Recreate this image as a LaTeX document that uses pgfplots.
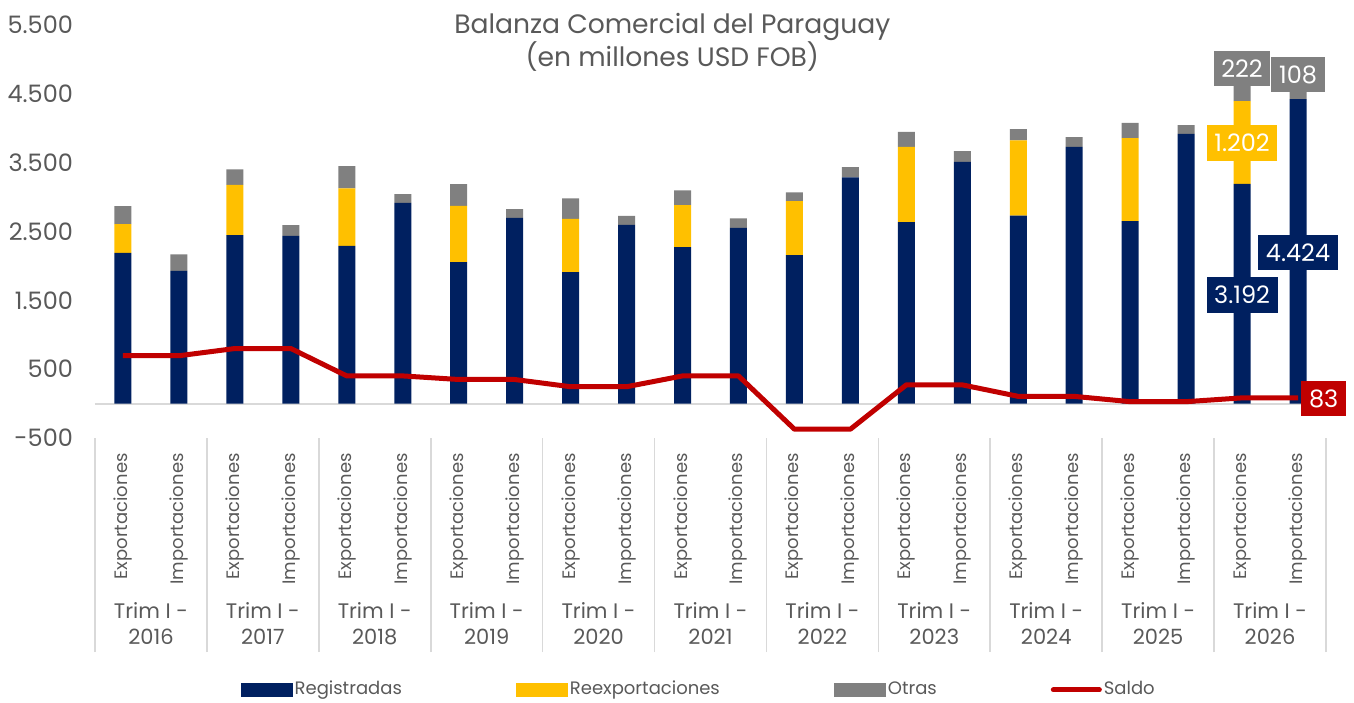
\documentclass[border=0pt]{standalone}
\usepackage{fontspec}
\setmainfont{Poppins}
\usepackage{pgfplots}
\usepackage{pgfplotstable}
\pgfplotsset{compat=1.18}

\definecolor{navy}{RGB}{0,32,96}
\definecolor{amber}{RGB}{255,192,0}
\definecolor{otrasgray}{RGB}{128,128,128}
\definecolor{saldored}{RGB}{192,0,0}
\definecolor{txt}{RGB}{89,89,89}
\definecolor{sepgray}{RGB}{217,217,217}

% x: 0,2,4,... exportaciones; 1,3,5,... importaciones (Trim I 2016-2026)
\pgfplotstableread{
x  reg  reexp otras saldo
0  2190 418   261   695
1  1929 0     238   695
2  2448 731   223   800
3  2438 0     155   800
4  2292 834   325   402
5  2917 0     126   402
6  2055 819   315   350
7  2699 0     127   350
8  1910 775   296   245
9  2597 0     131   245
10 2273 611   213   402
11 2554 0     136   402
12 2157 785   126   -372
13 3286 0     150   -372
14 2637 1094  218   272
15 3513 0     156   272
16 2729 1095  164   105
17 3731 0     141   105
18 2651 1207  222   28
19 3920 0     127   28
20 3192 1202  222   83
21 4424 0     108   83
}\datatable

\pgfplotsset{
  barleg/.style={legend image code/.code={\fill[##1] (0pt,-3.5pt) rectangle (26pt,3.5pt);}},
  lineleg/.style={legend image code/.code={\draw[##1, line cap=round] (1.5pt,0pt) -- (24.5pt,0pt);}},
}
\tikzset{
  lbl/.style={fill=#1, text=white, font=\fontsize{12}{14}\selectfont,
    inner xsep=3.8pt, inner ysep=4.6pt, text height=8.6pt, text depth=0pt},
}

\begin{document}
\begin{tikzpicture}[text=txt]
\useasboundingbox (-47.5pt,-132pt) rectangle (629.5pt,219pt);
\begin{axis}[
  scale only axis, width=615.5pt, height=206.5pt,
  ybar stacked, bar width=8.5pt,
  xmin=-0.5, xmax=21.5, ymin=-500, ymax=5500,
  axis line style={draw=none},
  xtick pos=bottom, ytick pos=left,
  xtick={0,...,21},
  xticklabels={Exportaciones,Importaciones,Exportaciones,Importaciones,Exportaciones,Importaciones,Exportaciones,Importaciones,Exportaciones,Importaciones,Exportaciones,Importaciones,Exportaciones,Importaciones,Exportaciones,Importaciones,Exportaciones,Importaciones,Exportaciones,Importaciones,Exportaciones,Importaciones},
  xticklabel style={rotate=90, anchor=east, inner xsep=7.5pt, font=\fontsize{9}{10}\selectfont},
  xtick style={draw=none},
  ytick={-500,500,1500,2500,3500,4500,5500},
  yticklabels={-500,500,1.500,2.500,3.500,4.500,5.500},
  yticklabel style={font=\fontsize{12}{14}\selectfont, xshift=-7.5pt},
  ytick style={draw=none},
  extra y ticks={0}, extra y tick labels={},
  extra y tick style={grid=major, major grid style={draw=sepgray, line width=1pt}},
  extra x ticks={-0.5,1.5,...,21.5}, extra x tick labels={},
  extra x tick style={major tick length=107pt, tick align=outside,
    xtick style={draw=sepgray, line width=0.8pt}},
  title={Balanza Comercial del Paraguay\\(en millones USD FOB)},
  title style={align=center, font=\fontsize{13.3}{16.5}\selectfont, at={(0.469,1)},
    anchor=north, inner sep=0pt, yshift=0pt},
  legend columns=4,
  legend style={draw=none, fill=none, at={(0.118,-0.61)}, anchor=west, inner sep=0pt,
    font=\fontsize{9}{10}\selectfont,
    nodes={inner xsep=1pt, inner ysep=1pt, text height=6.8pt, text depth=1.8pt},
    /tikz/every even column/.append style={column sep=56pt}},
]
\addplot[fill=navy, draw=none, barleg] table[x=x, y=reg] {\datatable};
\addlegendentry{Registradas}
\addplot[fill=amber, draw=none, barleg] table[x=x, y=reexp] {\datatable};
\addlegendentry{Reexportaciones}
\addplot[fill=otrasgray, draw=none, barleg] table[x=x, y=otras] {\datatable};
\addlegendentry{Otras}
\addlegendimage{lineleg, saldored, line width=2.5pt}
\addlegendentry{Saldo}
\end{axis}

\begin{axis}[
  scale only axis, width=615.5pt, height=206.5pt,
  xmin=-0.5, xmax=21.5, ymin=-500, ymax=5500,
  clip=false,
  axis line style={draw=none},
  ytick=\empty,
  xtick pos=bottom,
  xtick={0.5,2.5,...,20.5},
  xticklabels={{Trim I -\\2016},{Trim I -\\2017},{Trim I -\\2018},{Trim I -\\2019},{Trim I -\\2020},{Trim I -\\2021},{Trim I -\\2022},{Trim I -\\2023},{Trim I -\\2024},{Trim I -\\2025},{Trim I -\\2026}},
  xticklabel style={align=center, anchor=north, inner sep=0pt, yshift=-82pt,
    font=\fontsize{10.5}{13}\selectfont},
  xtick style={draw=none},
]
\addplot[saldored, line width=2.5pt, line join=round] table[x=x, y=saldo] {\datatable};

% etiquetas de datos del ultimo trimestre
\addplot[draw=none, nodes near coords, point meta=explicit symbolic,
  every node near coord/.append style={lbl=otrasgray, anchor=south, yshift=-0.5pt}]
  coordinates {(20,4616) [222] (21,4532) [108]};
\addplot[draw=none, nodes near coords, point meta=explicit symbolic,
  every node near coord/.append style={lbl=amber, anchor=center}]
  coordinates {(20,3785) [1.202]};
\addplot[draw=none, nodes near coords, point meta=explicit symbolic,
  every node near coord/.append style={lbl=navy, anchor=center}]
  coordinates {(20,1580) [3.192] (21,2195) [4.424]};
\addplot[draw=none, nodes near coords, point meta=explicit symbolic,
  every node near coord/.append style={lbl=saldored, anchor=west, xshift=1.5pt}]
  coordinates {(21,75) [83]};
\end{axis}
\end{tikzpicture}
\end{document}
